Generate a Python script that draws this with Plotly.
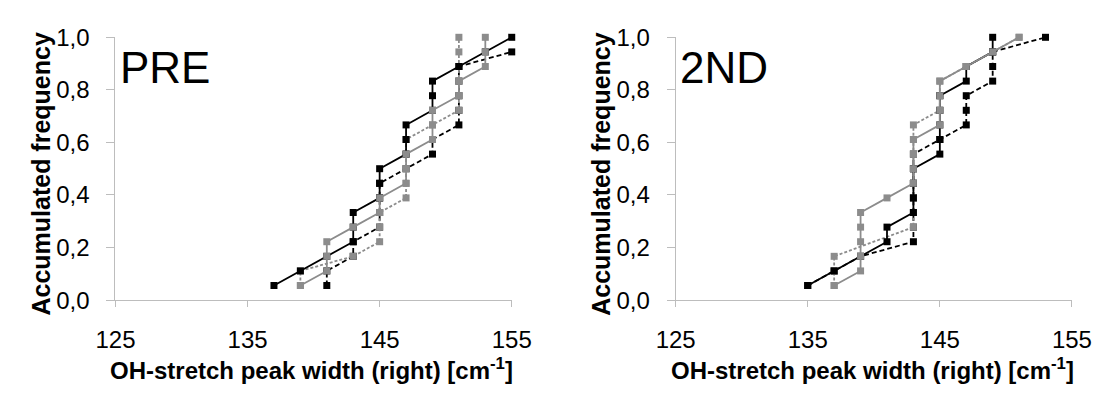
import plotly.graph_objects as go

# ---------------- data ----------------
N_SAMPLES = 18  # accumulated frequency = rank / 18

# PRE panel
pre_black_solid_x = [137, 139, 141, 143, 143, 143, 145, 145, 145, 147, 147, 147, 149, 149, 149, 151, 153, 155]
pre_black_solid_rank = [1, 2, 3, 4, 5, 6, 7, 8, 9, 10, 11, 12, 13, 14, 15, 16, 17, 18]
pre_black_dash_x = [141, 141, 143, 143, 145, 145, 145, 145, 147, 149, 149, 151, 151, 151, 151, 151, 155]
pre_black_dash_rank = [1, 2, 3, 4, 5, 6, 7, 8, 9, 10, 11, 12, 13, 14, 15, 16, 17]
pre_gray_solid_x = [139, 141, 141, 141, 143, 145, 145, 147, 147, 147, 149, 149, 149, 151, 151, 153, 153, 153]
pre_gray_solid_rank = [1, 2, 3, 4, 5, 6, 7, 8, 9, 10, 11, 12, 13, 14, 15, 16, 17, 18]
pre_gray_dash_x = [139, 139, 143, 145, 145, 145, 147, 147, 147, 147, 147, 149, 151, 151, 151, 151, 151, 151]
pre_gray_dash_rank = [1, 2, 3, 4, 5, 6, 7, 8, 9, 10, 11, 12, 13, 14, 15, 16, 17, 18]

# 2ND panel
snd_black_solid_x = [135, 137, 139, 141, 141, 143, 143, 143, 143, 145, 145, 145, 145, 145, 147, 147, 149, 149]
snd_black_solid_rank = [1, 2, 3, 4, 5, 6, 7, 8, 9, 10, 11, 12, 13, 14, 15, 16, 17, 18]
snd_black_dash_x = [135, 137, 139, 143, 143, 143, 143, 143, 143, 143, 145, 147, 147, 147, 149, 149, 149, 153]
snd_black_dash_rank = [1, 2, 3, 4, 5, 6, 7, 8, 9, 10, 11, 12, 13, 14, 15, 16, 17, 18]
snd_gray_solid_x = [137, 139, 139, 139, 139, 139, 141, 143, 143, 143, 143, 145, 145, 145, 145, 147, 149, 151]
snd_gray_solid_rank = [1, 2, 3, 4, 5, 6, 7, 8, 9, 10, 11, 12, 13, 14, 15, 16, 17, 18]
snd_gray_dash_x = [137, 137, 137, 143, 143, 143, 143, 143, 143, 143, 143, 145, 145, 145, 147, 149, 151]
snd_gray_dash_rank = [1, 2, 3, 5, 6, 7, 8, 9, 10, 11, 12, 13, 14, 15, 16, 17, 18]

x_ticks = [125, 135, 145, 155]
y_ticks = [0.0, 0.2, 0.4, 0.6, 0.8, 1.0]
panel_labels = ["PRE", "2ND"]
x_title = "OH-stretch peak width (right) [cm<sup>-1</sup>]"
y_title = "Accumulated frequency"

# ---------------- figure ----------------
W, H = 1117, 397
FONT = "Liberation Sans, Arial, sans-serif"
BLACK = "#000000"
GRAY = "#8c8c8c"
AXIS_COL = "#bdbdbd"


def px_x(p):
    return p / W


def px_y(p):
    return (H - p) / H


fig = go.Figure()


def add_series(x, rank, color, dash, xa, ya):
    fig.add_trace(go.Scatter(
        x=x, y=[r / N_SAMPLES for r in rank],
        mode="lines+markers",
        line=dict(color=color, width=1.8, dash=dash),
        marker=dict(symbol="square", size=7, color=color, line=dict(width=0)),
        xaxis=xa, yaxis=ya, cliponaxis=False, showlegend=False,
        hoverinfo="x+y",
    ))


panels = [
    ("x", "y", pre_black_dash_x, pre_black_dash_rank, pre_gray_dash_x, pre_gray_dash_rank,
     pre_black_solid_x, pre_black_solid_rank, pre_gray_solid_x, pre_gray_solid_rank),
    ("x2", "y2", snd_black_dash_x, snd_black_dash_rank, snd_gray_dash_x, snd_gray_dash_rank,
     snd_black_solid_x, snd_black_solid_rank, snd_gray_solid_x, snd_gray_solid_rank),
]
for xa, ya, bdx, bdr, gdx, gdr, bsx, bsr, gsx, gsr in panels:
    add_series(bdx, bdr, BLACK, "5px,3px", xa, ya)
    add_series(gdx, gdr, GRAY, "3px,2px", xa, ya)
    add_series(bsx, bsr, BLACK, "solid", xa, ya)
    add_series(gsx, gsr, GRAY, "solid", xa, ya)

xaxis_common = dict(
    range=[125, 155], tickvals=x_ticks, showgrid=False, zeroline=False,
    showline=True, linecolor=AXIS_COL, linewidth=1,
    ticks="outside", ticklen=6, tickcolor=AXIS_COL, tickwidth=1,
    tickfont=dict(family=FONT, size=24, color="#000"),
    ticklabelstandoff=12, fixedrange=True,
)
yaxis_common = dict(
    range=[0, 1], tickvals=y_ticks, tickformat=".1f", showgrid=False, zeroline=False,
    showline=True, linecolor=AXIS_COL, linewidth=1,
    ticks="outside", ticklen=8, tickcolor=AXIS_COL, tickwidth=1,
    tickfont=dict(family=FONT, size=24, color="#000"),
    ticklabelstandoff=12, fixedrange=True,
)

ydom = [px_y(307), px_y(25)]
fig.update_layout(
    width=W, height=H,
    margin=dict(l=0, r=0, t=0, b=0),
    paper_bgcolor="white", plot_bgcolor="white",
    separators=",.",
    xaxis=dict(domain=[px_x(99), px_x(510)], anchor="y", **xaxis_common),
    yaxis=dict(domain=ydom, anchor="x", **yaxis_common),
    xaxis2=dict(domain=[px_x(680), px_x(1091)], anchor="y2", **xaxis_common),
    yaxis2=dict(domain=ydom, anchor="x2", **yaxis_common),
)

annotations = []
for left_px, label in [(102, panel_labels[0]), (682, panel_labels[1])]:
    annotations.append(dict(
        x=px_x(left_px), y=px_y(57), xref="paper", yref="paper",
        xanchor="left", yanchor="middle", showarrow=False,
        text=label, font=dict(family=FONT, size=44, color="#000"),
    ))
for cx in [302, 884]:
    annotations.append(dict(
        x=px_x(cx), y=px_y(381), xref="paper", yref="paper",
        xanchor="center", yanchor="middle", showarrow=False,
        text="<b>" + x_title + "</b>", font=dict(family=FONT, size=24, color="#000"),
    ))
for cx in [22, 603]:
    annotations.append(dict(
        x=px_x(cx), y=px_y(171), xref="paper", yref="paper",
        xanchor="center", yanchor="middle", showarrow=False, textangle=-90,
        text="<b>" + y_title + "</b>", font=dict(family=FONT, size=25, color="#000"),
    ))
fig.update_layout(annotations=annotations)

fig.write_html("out.html")
